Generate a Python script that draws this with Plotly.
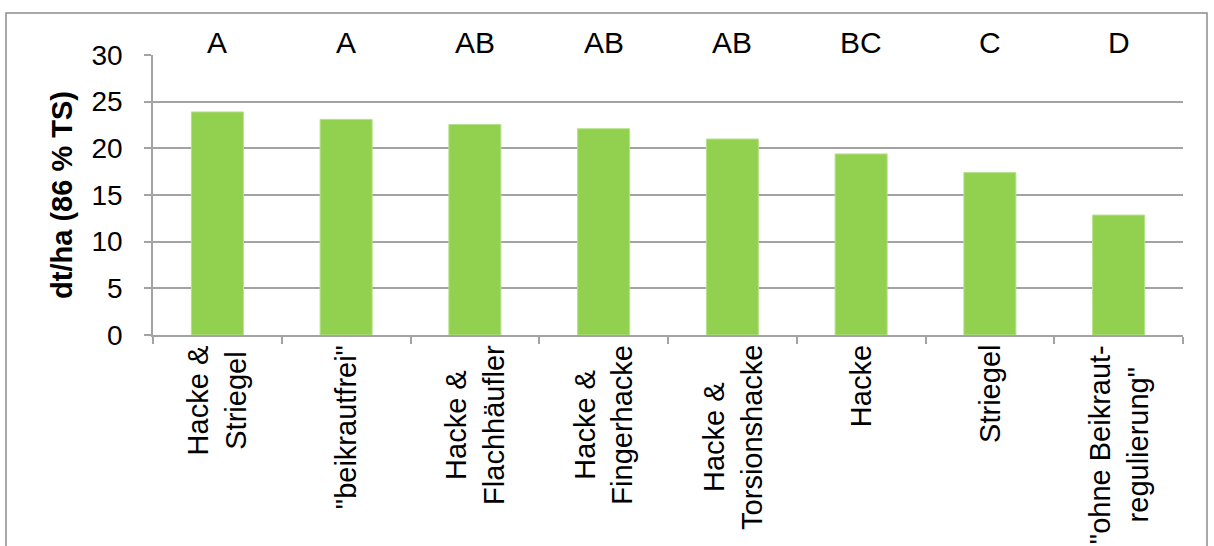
import plotly.graph_objects as go

# Ertrag je Variante der Beikrautregulierung
categories = [
    "Hacke &<br>Striegel",
    "\"beikrautfrei\"",
    "Hacke &<br>Flachhäufler",
    "Hacke &<br>Fingerhacke",
    "Hacke &<br>Torsionshacke",
    "Hacke",
    "Striegel",
    "\"ohne Beikraut-<br>regulierung\"",
]
yields = [23.9, 23.1, 22.55, 22.1, 21.0, 19.4, 17.4, 12.85]
letters = ["A", "A", "AB", "AB", "AB", "BC", "C", "D"]
y_ticks = [0, 5, 10, 15, 20, 25, 30]

FONT = "Liberation Sans, Arial, sans-serif"
GRID = "#A3A3A3"
BAR = "#92D050"

fig = go.Figure(
    go.Bar(
        x=list(range(len(categories))),
        y=yields,
        marker=dict(color=BAR, line=dict(color="#B5E08A", width=1)),
        showlegend=False,
    )
)

# Signifikanzbuchstaben oberhalb der Skala
for i, lab in enumerate(letters):
    fig.add_annotation(
        x=i, y=30, xref="x", yref="y",
        text=lab, showarrow=False,
        yanchor="bottom", yshift=-6,
        font=dict(family=FONT, size=30, color="black"),
    )

# Kategoriebeschriftungen, gedreht und zeilenweise zentriert
for i, lab in enumerate(categories):
    fig.add_annotation(
        x=i, y=0, xref="x", yref="paper",
        text=lab, showarrow=False, textangle=-90,
        xanchor="center", yanchor="top", yshift=-8, align="center",
        font=dict(family=FONT, size=29, color="black"),
    )

# Rahmen um das Diagramm
fig.add_shape(
    type="rect", xref="paper", yref="paper",
    x0=-0.1427, x1=1.0233, y0=-0.95, y1=1.15,
    line=dict(color="#8C8C8C", width=1.5), layer="below",
)

fig.update_layout(
    width=1214, height=546,
    margin=dict(l=153, r=31, t=55, b=211),
    plot_bgcolor="white", paper_bgcolor="white",
    bargap=0.596,
    font=dict(family=FONT, color="black"),
)

fig.update_xaxes(
    type="linear", range=[-0.5, len(categories) - 0.5],
    tickmode="array", tickvals=[i - 0.5 for i in range(len(categories) + 1)],
    showticklabels=False, showgrid=False, zeroline=False,
    showline=True, linecolor=GRID, linewidth=1.5,
    ticks="outside", ticklen=7, tickcolor=GRID, tickwidth=1.5,
)

fig.update_yaxes(
    range=[0, 30], tickmode="array", tickvals=y_ticks,
    showgrid=True, gridcolor=GRID, gridwidth=1.5, zeroline=False,
    showline=True, linecolor=GRID, linewidth=1.5,
    ticks="outside", ticklen=7, tickcolor=GRID, tickwidth=1.5,
    ticklabelstandoff=16,
    tickfont=dict(family=FONT, size=28, color="black"),
    title=dict(text="dt/ha (86 % TS)", standoff=10,
               font=dict(family=FONT, size=29, color="black", weight="bold")),
)

fig.write_html("out.html")
